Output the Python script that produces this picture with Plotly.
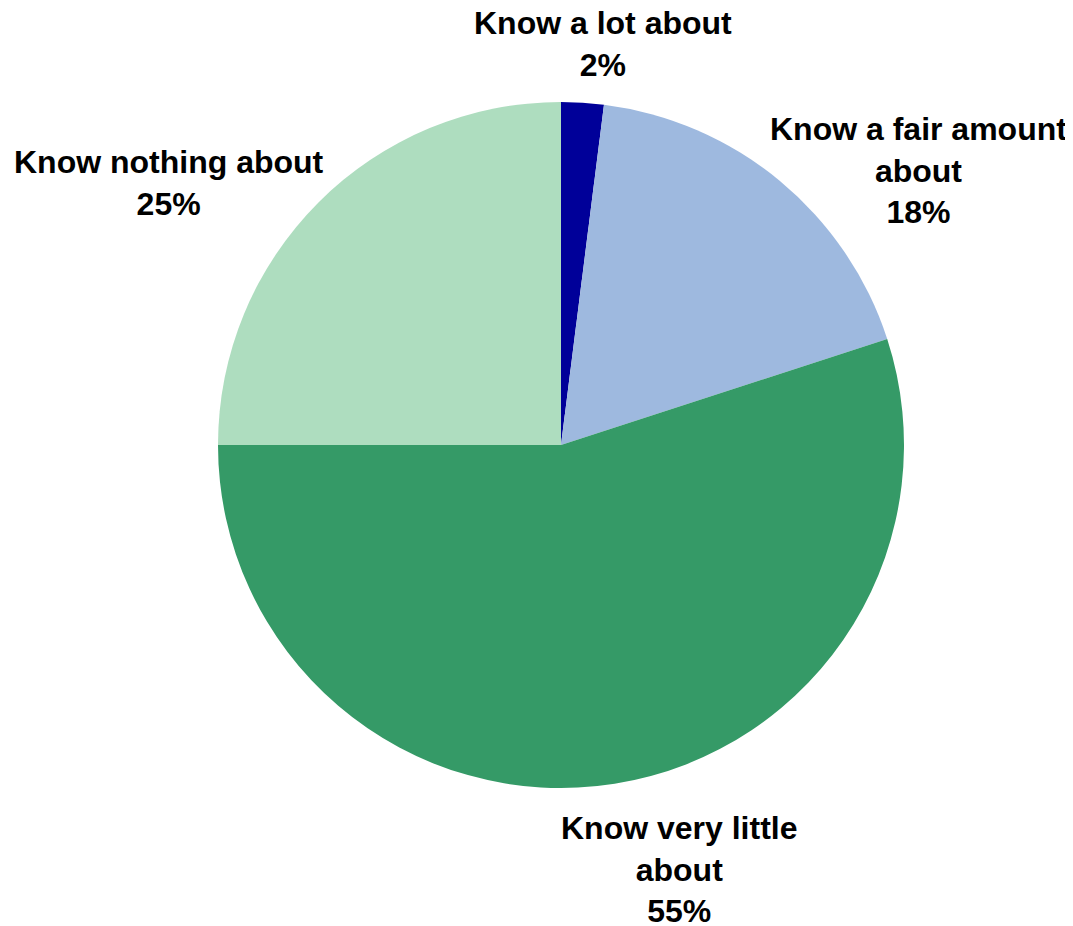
import plotly.graph_objects as go

labels = ["Know a lot about", "Know a fair amount about", "Know very little about", "Know nothing about"]
display_labels = ["Know a lot about", "Know a fair amount<br>about", "Know very little<br>about", "Know nothing about"]
values = [2, 18, 55, 25]
colors = ["#000099", "#9EB9DF", "#359A67", "#AEDDBF"]

W, H = 1073, 926
OFF = 8  # page body margin offset
cx, cy, r = 561 - OFF, 445 - OFF, 343

# label anchor positions (pixels, as seen in the page)
label_pos = [(603, 44), (918, 171), (679, 869), (169, 183)]

fig = go.Figure(go.Pie(
    labels=labels,
    values=values,
    marker=dict(colors=colors, line=dict(width=0)),
    sort=False,
    direction="clockwise",
    rotation=0,
    textinfo="none",
    hoverinfo="label+percent",
    domain=dict(x=[(cx - r) / W, (cx + r) / W], y=[1 - (cy + r) / H, 1 - (cy - r) / H]),
    showlegend=False,
))

for lab, v, (px, py) in zip(display_labels, values, label_pos):
    fig.add_annotation(
        x=(px - OFF) / W, y=1 - (py - OFF) / H, xref="paper", yref="paper",
        text=f"<b>{lab}<br>{v}%</b>", showarrow=False,
        xanchor="center", yanchor="middle", align="center",
        font=dict(family="Liberation Sans, Arial, sans-serif", size=32, color="#000000"),
    )

fig.update_layout(
    width=W, height=H,
    margin=dict(l=0, r=0, t=0, b=0),
    paper_bgcolor="white", plot_bgcolor="white",
)

fig.write_html("out.html")
